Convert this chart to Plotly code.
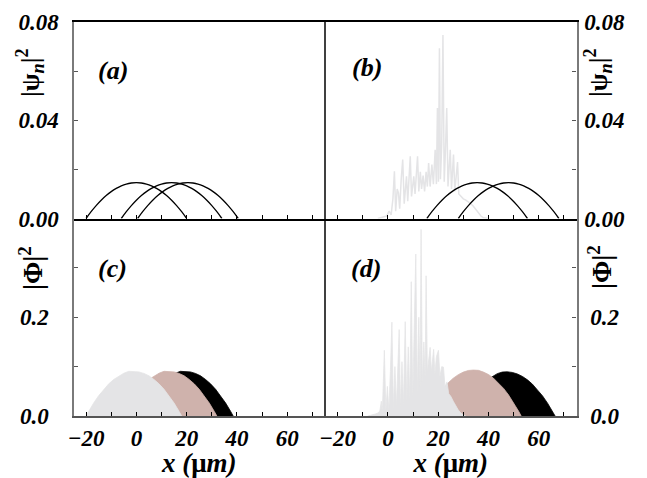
import plotly.graph_objects as go

# ---------------- data ----------------
# panel (a): |psi_n|^2 line curves
psi_y = [0, 0.00277, 0.00526, 0.00745, 0.00934, 0.01095, 0.01226, 0.01329, 0.01402, 0.01445, 0.0146,
         0.01445, 0.01402, 0.01329, 0.01226, 0.01095, 0.00934, 0.00745, 0.00526, 0.00277, 0]
a1_x = [-20, -18, -16, -14, -12, -10, -8, -6, -4, -2, 0, 2, 4, 6, 8, 10, 12, 14, 16, 18, 20]
a2_x = [-6, -4, -2, 0, 2, 4, 6, 8, 10, 12, 14, 16, 18, 20, 22, 24, 26, 28, 30, 32, 34]
a3_x = [0.5, 2.5, 4.5, 6.5, 8.5, 10.5, 12.5, 14.5, 16.5, 18.5, 20.5, 22.5, 24.5, 26.5, 28.5, 30.5, 32.5, 34.5, 36.5, 38.5, 40.5]
# panel (b): line curves
b1_x = [15.5, 17.5, 19.5, 21.5, 23.5, 25.5, 27.5, 29.5, 31.5, 33.5, 35.5, 37.5, 39.5, 41.5, 43.5, 45.5, 47.5, 49.5, 51.5, 53.5, 55.5]
b2_x = [28, 30, 32, 34, 36, 38, 40, 42, 44, 46, 48, 50, 52, 54, 56, 58, 60, 62, 64, 66, 68]
# panel (b): fragmented (grey) component
b_grey_x = [-4, -2, -0.5, 0.5, 1.3, 2.0, 2.6, 3.1, 3.7, 4.2, 4.7, 5.3, 5.9, 6.5, 7.0, 7.4, 7.9, 8.4, 8.9, 9.4,
            9.9, 10.3, 10.8, 11.3, 11.8, 12.3, 12.9, 13.4, 14.0, 14.6, 15.2, 15.7, 16.2, 16.8, 17.5, 18.1,
            18.8, 19.3, 19.7, 20.1, 20.5, 20.9, 21.4, 21.9, 22.4, 22.9, 23.4, 23.9, 24.4, 24.8, 25.3, 25.7,
            26.1, 26.6, 27.2, 27.7, 28.2, 29, 30, 31, 32, 33, 34, 35, 36, 37, 38, 40]
b_grey_y = [0, 0.0005, 0.001, 0.003, 0.0015, 0.008, 0.0192, 0.003, 0.012, 0.0104, 0.004, 0.016, 0.024, 0.006,
            0.014, 0.0172, 0.007, 0.016, 0.0253, 0.009, 0.015, 0.0172, 0.01, 0.016, 0.0253, 0.011, 0.019,
            0.012, 0.0175, 0.011, 0.019, 0.013, 0.0226, 0.013, 0.022, 0.014, 0.028, 0.014, 0.045, 0.015,
            0.0693, 0.016, 0.03, 0.0747, 0.015, 0.028, 0.045, 0.013, 0.022, 0.028, 0.012, 0.02, 0.026, 0.011,
            0.018, 0.023, 0.01, 0.009, 0.008, 0.0075, 0.0068, 0.006, 0.005, 0.0035, 0.002, 0.001, 0.0003, 0]

# panels (c),(d): |Phi|^2 filled profiles
phi_y = [0, 0.0092, 0.0262, 0.0411, 0.0541, 0.0651, 0.0740, 0.0812, 0.0866, 0.0905, 0.0900,
         0.0893, 0.0862, 0.0814, 0.0740, 0.0651, 0.0541, 0.0411, 0.0262, 0.0092, 0]
c_grey_x = [-20, -19, -17, -15, -13, -11, -9, -7, -5, -3, -1, 1, 3, 5, 7, 9, 11, 13, 15, 17, 18]
c_pink_x = [-6, -5, -3, -1, 1, 3, 5, 7, 9, 11, 13, 15, 17, 19, 21, 23, 25, 27, 29, 31, 32]
c_black_x = [0.5, 1.5, 3.5, 5.5, 7.5, 9.5, 11.5, 13.5, 15.5, 17.5, 19.5, 21.5, 23.5, 25.5, 27.5, 29.5, 31.5, 33.5, 35.5, 37.5, 38.5]
d_pink_x = [15, 16, 18, 20, 22, 24, 26, 28, 30, 32, 34, 36, 38, 40, 42, 44, 46, 48, 50, 52, 53]
d_pink_y = [0, 0.0095, 0.0271, 0.0425, 0.0559, 0.0672, 0.0765, 0.0837, 0.0889, 0.0922, 0.0930,
            0.0925, 0.0889, 0.0840, 0.0765, 0.0672, 0.0559, 0.0425, 0.0271, 0.0095, 0]
d_black_x = [28.5, 29.5, 31.5, 33.5, 35.5, 37.5, 39.5, 41.5, 43.5, 45.5, 47.5, 49.5, 51.5, 53.5, 55.5, 57.5, 59.5, 61.5, 63.5, 65.5, 66.5]
d_black_y = [0, 0.0091, 0.0259, 0.0407, 0.0535, 0.0643, 0.0732, 0.0803, 0.0858, 0.0890, 0.0895,
             0.0882, 0.0851, 0.0801, 0.0732, 0.0643, 0.0535, 0.0407, 0.0259, 0.0091, 0]
d_grey_x = [-8, -6, -5, -4, -3.2, -2.6, -2.2, -1.4, -0.8, -0.2, 0.4, 1.0, 1.6, 2.2, 2.8, 3.4, 4.0, 4.5, 5.0,
            5.6, 6.2, 6.9, 7.5, 8.1, 8.7, 9.3, 9.9, 10.5, 11.1, 11.7, 12.3, 12.8, 13.2, 13.7, 14.3, 14.8,
            15.2, 15.7, 16.3, 16.8, 17.3, 17.8, 18.2, 18.7, 19.3, 20.1, 20.7, 21.4, 22.1, 22.7, 23.5, 24.2,
            25, 26, 27, 28, 29, 30, 31]
d_grey_y = [0, 0.002, 0.004, 0.006, 0.01, 0.03, 0.008, 0.133, 0.01, 0.06, 0.012, 0.09, 0.19, 0.015, 0.1,
            0.02, 0.12, 0.175, 0.02, 0.11, 0.025, 0.191, 0.03, 0.14, 0.035, 0.272, 0.04, 0.16, 0.328, 0.05,
            0.2, 0.06, 0.378, 0.07, 0.15, 0.08, 0.284, 0.09, 0.12, 0.139, 0.09, 0.12, 0.135, 0.085, 0.12,
            0.133, 0.08, 0.1, 0.099, 0.06, 0.069, 0.045, 0.04, 0.03, 0.02, 0.012, 0.006, 0.002, 0]

x_ticks = [-20, 0, 20, 40, 60]
x_ticktext = ["\u221220", "0", "20", "40", "60"]
x_minor = [-20, -10, 0, 10, 20, 30, 40, 50, 60, 70]
top_yticks = [0, 0.04, 0.08]
top_yticktext = ["0.00", "0.04", "0.08"]
top_yminor = [0.02, 0.06]
bot_yticks = [0, 0.2]
bot_yticktext = ["0.0", "0.2"]
bot_yminor = [0.1, 0.3]

GREY = "#e4e4e6"
PINK = "#cfb2ac"
BLACK = "#000000"
SERIF = "Liberation Serif"

# ---------------- figure ----------------
fig = go.Figure()

def line(x, y, xa, ya, color, width=1.3):
    fig.add_trace(go.Scatter(x=x, y=y, mode="lines", line=dict(color=color, width=width, shape="spline"),
                             xaxis=xa, yaxis=ya, showlegend=False, hoverinfo="skip"))

def area(x, y, xa, ya, color):
    fig.add_trace(go.Scatter(x=x, y=y, mode="lines", fill="tozeroy", fillcolor=color,
                             line=dict(color=color, width=0.8), xaxis=xa, yaxis=ya,
                             showlegend=False, hoverinfo="skip"))

# (a)
for xs in (a1_x, a2_x, a3_x):
    line(xs, psi_y, "x", "y", BLACK)
# (b)
fig.add_trace(go.Scatter(x=b_grey_x, y=b_grey_y, mode="lines", line=dict(color=GREY, width=1.5),
                         xaxis="x2", yaxis="y2", showlegend=False, hoverinfo="skip"))
for xs in (b1_x, b2_x):
    line(xs, psi_y, "x2", "y2", BLACK)
# (c)
area(c_black_x, phi_y, "x3", "y3", BLACK)
area(c_pink_x, phi_y, "x3", "y3", PINK)
area(c_grey_x, phi_y, "x3", "y3", GREY)
# (d)
area(d_black_x, d_black_y, "x4", "y4", BLACK)
area(d_pink_x, d_pink_y, "x4", "y4", PINK)
area(d_grey_x, d_grey_y, "x4", "y4", GREY)

XL = [73.5 / 647, 325 / 647]
XR = [325 / 647, 576.5 / 647]
YT = [1 - 218.5 / 478, 1 - 22 / 478]
YB = [1 - 416 / 478, 1 - 218.5 / 478]

tickfont = dict(family=SERIF, size=23, weight="bold", style="italic", color="black")
xt_font = dict(family=SERIF, size=27, weight="bold", color="black")
x_title = "<i>x (</i>\u03bc<i>m)</i>"

def xaxis(domain, anchor, labels, linecolor, mirror):
    d = dict(domain=domain, anchor=anchor, range=[-25, 75], tickvals=x_ticks,
             ticktext=x_ticktext, showticklabels=labels, ticks="inside", ticklen=4,
             tickcolor="black", tickwidth=1, showline=True, linecolor=linecolor, linewidth=1.6,
             minor=dict(tickvals=x_minor, ticks="inside", ticklen=4, tickcolor="black", tickwidth=1),
             mirror=mirror, showgrid=False, zeroline=False, tickfont=tickfont, ticklabelstandoff=1,
             automargin=False)
    if labels:
        d["title"] = dict(text=x_title, font=xt_font, standoff=10)
    return d

def yaxis(domain, anchor, rng, vals, text, minor, side, standoff):
    return dict(domain=domain, anchor=anchor, range=rng, tickvals=vals, ticktext=text, side=side,
                ticks="inside", ticklen=4, tickcolor="#555", tickwidth=1, showline=True,
                minor=dict(tickvals=minor, ticks="inside", ticklen=4, tickcolor="#555", tickwidth=1),
                linecolor="#7a7a7a", linewidth=2.2, showgrid=False, zeroline=False,
                tickfont=tickfont, ticklabelstandoff=standoff, automargin=False)

fig.update_layout(
    width=647, height=478, margin=dict(l=0, r=0, t=0, b=0, autoexpand=False),
    paper_bgcolor="white", plot_bgcolor="white",
    xaxis=xaxis(XL, "y", False, "black", True),
    yaxis=yaxis(YT, "x", [0, 0.08], top_yticks, top_yticktext, top_yminor, "left", 8),
    xaxis2=xaxis(XR, "y2", False, "black", True),
    yaxis2=yaxis(YT, "x2", [0, 0.08], top_yticks, top_yticktext, top_yminor, "right", 1),
    xaxis3=xaxis(XL, "y3", True, "#555", False),
    yaxis3=yaxis(YB, "x3", [0, 0.4], bot_yticks, bot_yticktext, bot_yminor, "left", 18),
    xaxis4=xaxis(XR, "y4", True, "#555", False),
    yaxis4=yaxis(YB, "x4", [0, 0.4], bot_yticks, bot_yticktext, bot_yminor, "right", 7),
)

# divider between left and right panels
fig.add_shape(type="line", xref="paper", yref="paper", x0=325 / 647, x1=325 / 647,
              y0=YB[0], y1=YT[1], line=dict(color="black", width=1.5))

lab_font = dict(family=SERIF, size=26, weight="bold", style="italic", color="black")
for txt, px, py in (("(a)", 113, 70), ("(b)", 367, 67), ("(c)", 113, 268), ("(d)", 366, 268)):
    fig.add_annotation(text=txt, x=px / 647, y=1 - py / 478, xref="paper", yref="paper",
                       showarrow=False, font=lab_font, xanchor="center", yanchor="middle")

psi_font = dict(family=SERIF, size=26, weight="bold", color="black")
phi_font = dict(family=SERIF, size=27, weight="bold", color="black")
psi_title = "|\u03c8<sub><i>n</i></sub>|<sup>2</sup>"
phi_title = "|\u03a6|<sup>2</sup>"
for txt, f, px, py in ((psi_title, psi_font, 30, 73), (phi_title, phi_font, 31, 268),
                       (psi_title, psi_font, 598, 73), (phi_title, phi_font, 600, 267)):
    fig.add_annotation(text=txt, x=px / 647, y=1 - py / 478, xref="paper", yref="paper",
                       showarrow=False, font=f, textangle=-90,
                       xanchor="center", yanchor="middle")

fig.write_html("out.html")
